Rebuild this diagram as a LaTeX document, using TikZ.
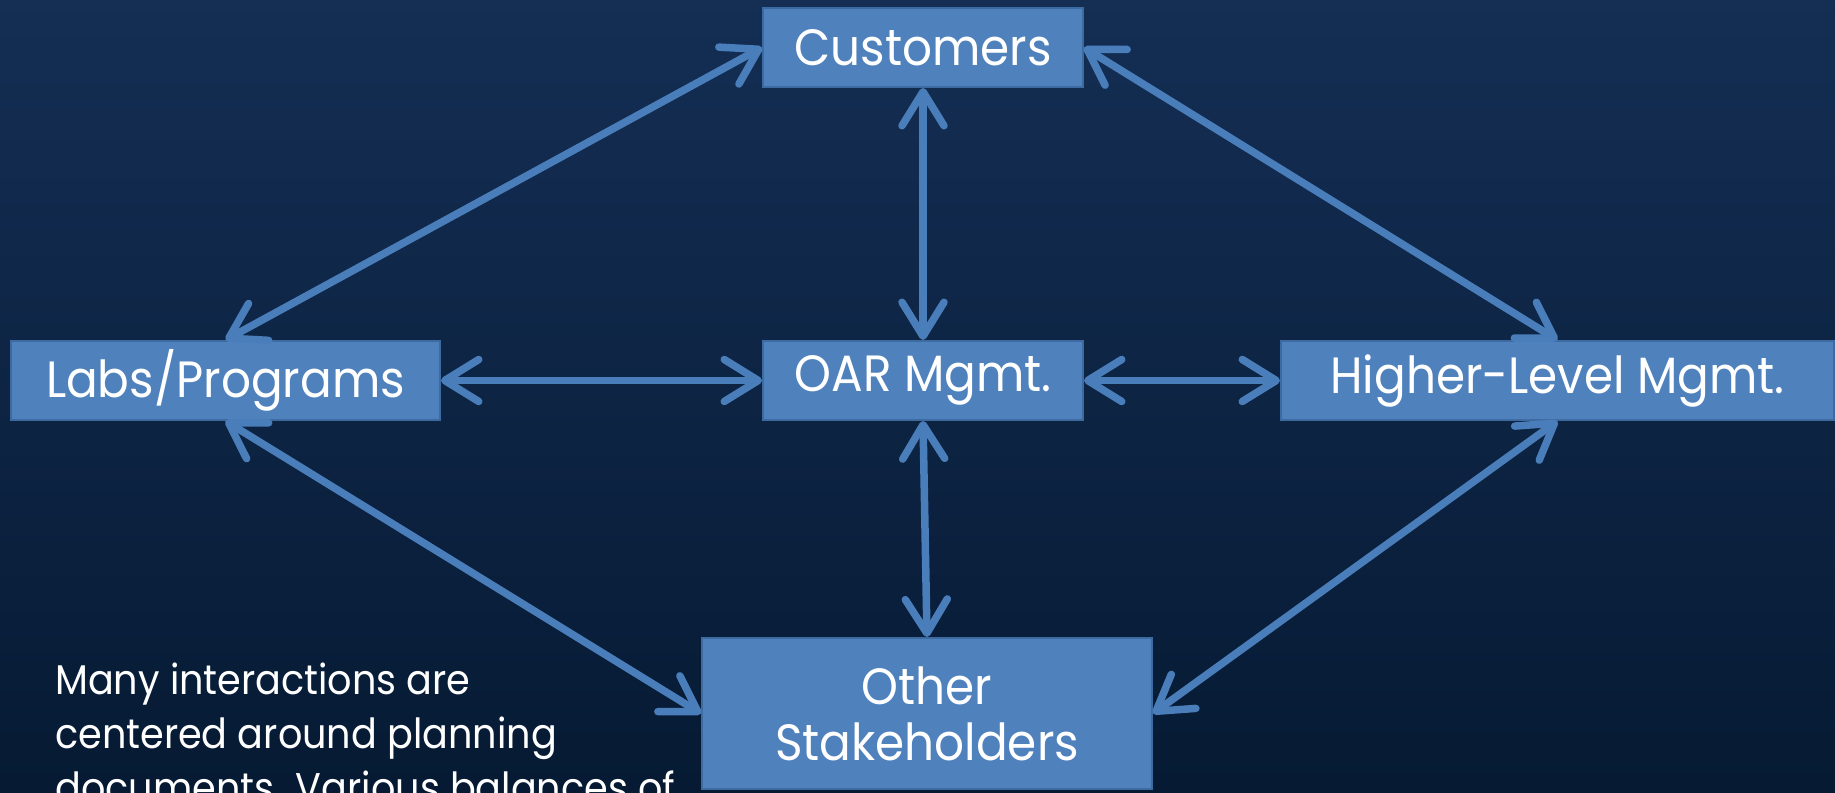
\documentclass[tikz,border=0pt]{standalone}
\usepackage{fontspec}
\setmainfont{Poppins}[FakeStretch=0.92]
\usetikzlibrary{arrows.meta}
\definecolor{bgtop}{HTML}{142E54}
\definecolor{bgbot}{HTML}{061A33}
\definecolor{boxfill}{HTML}{4F81BD}
\definecolor{boxline}{HTML}{3D6AA0}
\definecolor{arrcol}{HTML}{4A7EBB}
\tikzset{
  stakebox/.style={draw=boxline, line width=2pt, fill=boxfill, text=white, inner sep=0pt,
    font=\fontsize{51}{56}\selectfont, align=center},
  link/.style={draw=arrcol, line width=7.5pt,
    {Straight Barb[length=34pt,width=42pt,round]}-{Straight Barb[length=34pt,width=42pt,round]}},
}
\begin{document}
\begin{tikzpicture}[x=1pt,y=1pt]
\clip (0,0) rectangle (1835,792);
\shade[top color=bgtop, bottom color=bgbot] (0,0) rectangle (1835,792);
\node[stakebox, minimum width=320pt, minimum height=79pt] (cust) at (923,744.5) {Customers};
\node[stakebox, minimum width=429pt, minimum height=79pt] (labs) at (225.5,411.5) {Labs/Programs};
\node[stakebox, minimum width=320pt, minimum height=79pt] (oar) at (923,411.5) {OAR Mgmt.};
\node[stakebox, minimum width=553pt, minimum height=79pt] (high) at (1557.5,411.5) {Higher-Level Mgmt.};
\node[stakebox, minimum width=450pt, minimum height=151pt] (other) at (927,78.5) {Other\\Stakeholders};
\node[anchor=base west, inner sep=0pt, text=white, align=left,
  font=\fontsize{41.5}{54}\selectfont] (note) at (55,-10)
  {Many interactions are\\centered around planning\\documents. Various balances of};
\draw[link] (cust.west) -- (labs.north);
\draw[link] (cust.east) -- (high.north);
\draw[link] (cust.south) -- (oar.north);
\draw[link] (labs.east) -- (oar.west);
\draw[link] (oar.east) -- (high.west);
\draw[link] (oar.south) -- (other.north);
\draw[link] (labs.south) -- (other.west);
\draw[link] (high.south) -- (other.east);
\end{tikzpicture}
\end{document}
